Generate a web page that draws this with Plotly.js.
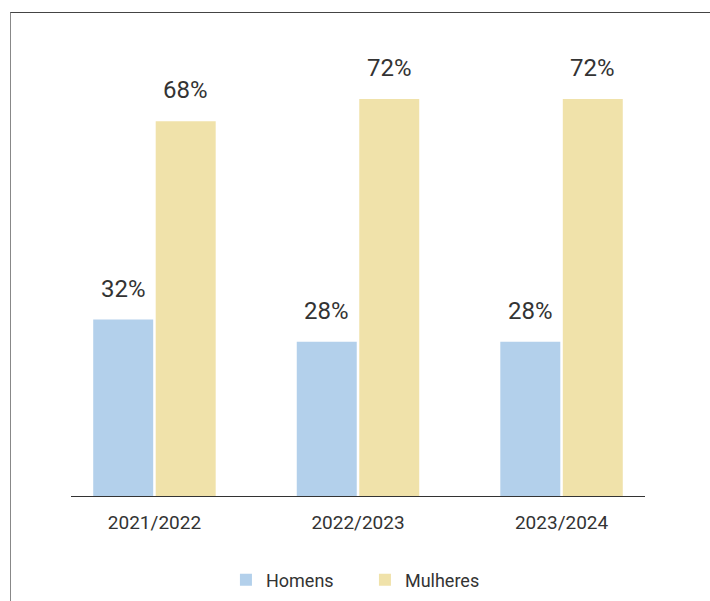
<!DOCTYPE html>
<html>
<head>
<meta charset="utf-8">
<script src="https://cdn.plot.ly/plotly-3.0.1.min.js"></script>
<style>
  html, body { margin: 0; padding: 0; background: #fff; }
  #frame { position: absolute; left: 10px; top: 12px; width: 800px; height: 700px;
           border-top: 1px solid #444; border-left: 1px solid #888; box-sizing: border-box; }
  #chart { position: absolute; left: 0; top: 0; width: 710px; height: 601px; }
</style>
</head>
<body>
<div id="frame"></div>
<div id="chart"></div>
<script>
const categories = ["2021/2022", "2022/2023", "2023/2024"];
const homens = [32, 28, 28];
const mulheres = [68, 72, 72];
const homensLabels = ["32%", "28%", "28%"];
const mulheresLabels = ["68%", "72%", "72%"];
const seriesNames = ["Homens", "Mulheres"];

const colHomens = "#b3d0eb";
const colMulheres = "#f0e2aa";
const textColor = "#333333";
const bargap = 0.386;
const offset = (1 - bargap) / 4;

const traces = [
  { type: "bar", name: seriesNames[0], x: categories, y: homens,
    marker: { color: colHomens }, hoverinfo: "none" },
  { type: "bar", name: seriesNames[1], x: categories, y: mulheres,
    marker: { color: colMulheres }, hoverinfo: "none" }
];

const annotations = [];
categories.forEach((c, i) => {
  annotations.push({ x: i - offset, y: homens[i], xref: "x", yref: "y", text: homensLabels[i],
    showarrow: false, yanchor: "bottom", yshift: 15, font: { family: "Roboto", size: 24, color: textColor } });
  annotations.push({ x: i + offset, y: mulheres[i], xref: "x", yref: "y", text: mulheresLabels[i],
    showarrow: false, yanchor: "bottom", yshift: 15, font: { family: "Roboto", size: 24, color: textColor } });
});

const layout = {
  width: 710, height: 601,
  margin: { l: 71, r: 65, t: 55, b: 105, autoexpand: false },
  paper_bgcolor: "rgba(0,0,0,0)",
  plot_bgcolor: "rgba(0,0,0,0)",
  barmode: "group",
  bargap: bargap,
  bargroupgap: 0.04,
  font: { family: "Roboto", color: textColor },
  xaxis: { type: "category", range: [-0.41, 2.41], showline: true, linecolor: "#333", linewidth: 1,
           ticks: "", ticklabelstandoff: 9, tickfont: { size: 19, color: textColor },
           showgrid: false, zeroline: false, fixedrange: true },
  yaxis: { range: [0, 80], visible: false, showgrid: false, zeroline: false, fixedrange: true },
  showlegend: true,
  legend: { orientation: "h", x: 0.514, xanchor: "center", xref: "container",
            y: 0.035, yanchor: "middle", yref: "container",
            font: { size: 18, color: textColor }, itemwidth: 30, entrywidth: 94,
            traceorder: "normal" },
  annotations: annotations
};

Plotly.newPlot("chart", traces, layout, { displayModeBar: false, staticPlot: true });
</script>
</body>
</html>
